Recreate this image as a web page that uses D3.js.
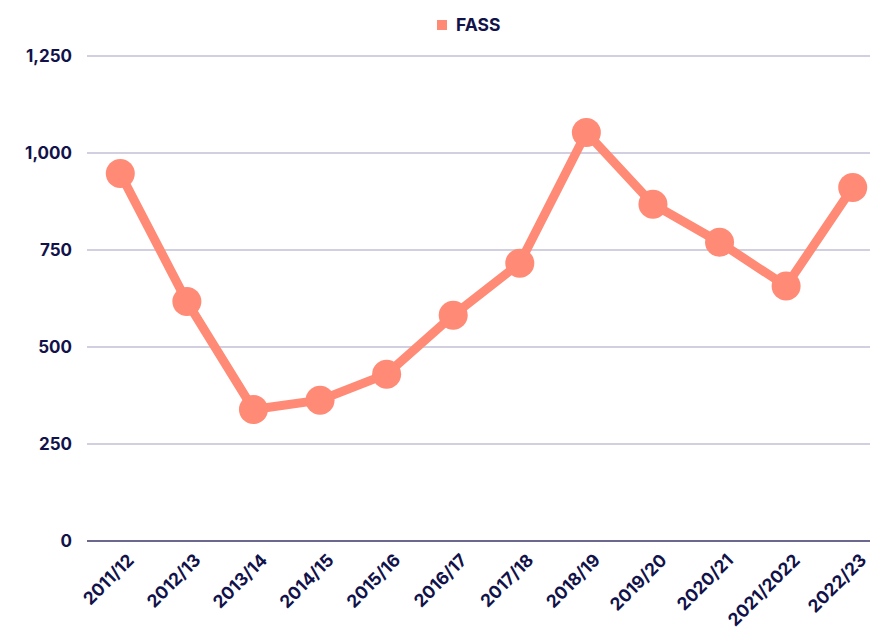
<!DOCTYPE html>
<html>
<head>
<meta charset="utf-8">
<script src="https://cdn.jsdelivr.net/npm/d3@7"></script>
<style>
  html, body { margin: 0; padding: 0; background: #fff; }
  svg { display: block; }
  text { font-family: Inter, "Open Sans", sans-serif; font-weight: 700; fill: #12124a; }
</style>
</head>
<body>
<svg id="chart" width="870" height="630"></svg>
<script>
const categories = ["2011/12","2012/13","2013/14","2014/15","2015/16","2016/17","2017/18","2018/19","2019/20","2020/21","2021/2022","2022/23"];
const fassValues = [947, 617, 339, 363, 430, 582, 716, 1053, 868, 770, 657, 911];
const yTicks = [0, 250, 500, 750, 1000, 1250];
const seriesName = "FASS";

(function () {
const svg = d3.select("#chart");
const mLeft = 87, mRight = 886, mTop = 56, mBottom = 541;
const color = "#ff8a75";

const x = d3.scalePoint().domain(categories).range([mLeft, mRight]).padding(0.5);
const y = d3.scaleLinear().domain([0, 1250]).range([mBottom, mTop]);

// gridlines
svg.append("g").selectAll("line").data(yTicks).join("line")
  .attr("x1", mLeft).attr("x2", 870)
  .attr("y1", d => y(d)).attr("y2", d => y(d))
  .attr("stroke", d => d === 0 ? "#6b6890" : "#c2bfd6")
  .attr("stroke-width", d => d === 0 ? 2 : 1.3);

// y axis labels
const yAxis = d3.axisLeft(y).tickValues(yTicks).tickFormat(d3.format(",")).tickSize(0).tickPadding(15);
const gy = svg.append("g").attr("transform", `translate(${mLeft},0)`).call(yAxis);
gy.select(".domain").remove();
gy.selectAll("text").style("font-size", "17px").attr("fill", "#12124a")
  .style("font-family", "Inter, 'Open Sans', sans-serif").style("font-weight", 700);

// x axis labels
const xAxis = d3.axisBottom(x).tickSize(0).tickPadding(0);
const gx = svg.append("g").attr("transform", `translate(0,${mBottom})`).call(xAxis);
gx.select(".domain").remove();
gx.selectAll("text")
  .style("font-size", "17.5px").attr("fill", "#12124a")
  .style("font-family", "Inter, 'Open Sans', sans-serif").style("font-weight", 700)
  .attr("text-anchor", "end")
  .attr("dy", "0.35em")
  .attr("transform", "translate(10,16) rotate(-45)");

// line
const line = d3.line().x((d, i) => x(categories[i])).y(d => y(d));
svg.append("path").datum(fassValues)
  .attr("d", line).attr("fill", "none")
  .attr("stroke", color).attr("stroke-width", 9).attr("stroke-linejoin", "round");

// markers
svg.append("g").selectAll("circle").data(fassValues).join("circle")
  .attr("cx", (d, i) => x(categories[i])).attr("cy", d => y(d))
  .attr("r", 14.5).attr("fill", color);

// legend
const lg = svg.append("g").attr("transform", "translate(437,19)");
lg.append("rect").attr("width", 10).attr("height", 10).attr("y", 1).attr("fill", color);
lg.append("text").attr("x", 19).attr("y", 12).text(seriesName).style("font-size", "17.5px");
})();
</script>
</body>
</html>
